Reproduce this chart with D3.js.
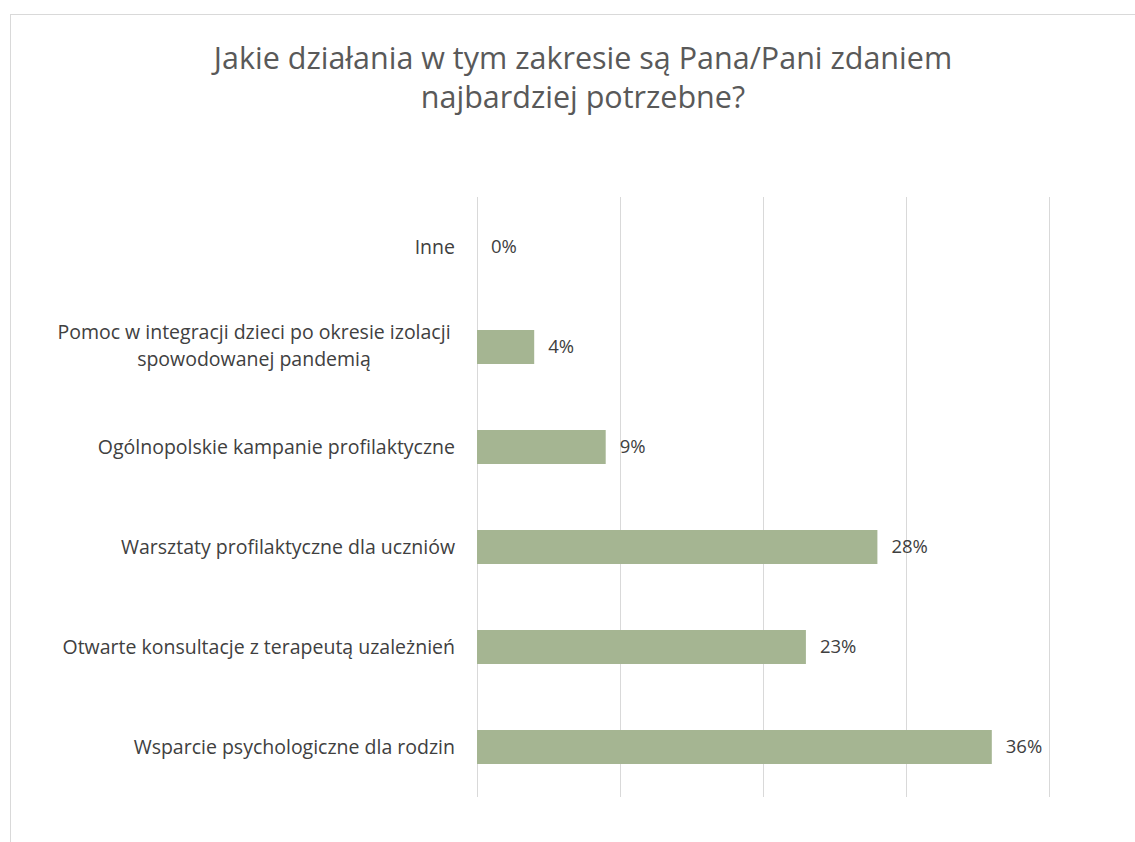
<!DOCTYPE html>
<html><head><meta charset="utf-8">
<script src="https://cdn.jsdelivr.net/npm/d3@7"></script>
<style>body{margin:0;background:#fff}svg{display:block}</style>
</head><body>
<svg id="c" width="1135" height="842"></svg>
<script>
const titleLines = ["Jakie działania w tym zakresie są Pana/Pani zdaniem", "najbardziej potrzebne?"];
const categories = [
  ["Inne"],
  ["Pomoc w integracji dzieci po okresie izolacji", "spowodowanej pandemią"],
  ["Ogólnopolskie kampanie profilaktyczne"],
  ["Warsztaty profilaktyczne dla uczniów"],
  ["Otwarte konsultacje z terapeutą uzależnień"],
  ["Wsparcie psychologiczne dla rodzin"]
];
const values = [0.00, 0.04, 0.09, 0.28, 0.23, 0.36];
const gridTicks = [0, 0.1, 0.2, 0.3, 0.4];

const font = "'Open Sans', sans-serif";
const svg = d3.select("#c");
svg.append("rect").attr("x", 10.5).attr("y", 14.5).attr("width", 1140).attr("height", 850)
  .attr("fill", "#fff").attr("stroke", "#d9d9d9").attr("stroke-width", 1);

const t = svg.append("text").attr("font-family", font).attr("font-size", 30.5).attr("fill", "#595959")
  .attr("text-anchor", "middle");
titleLines.forEach((l, i) => t.append("tspan").attr("x", 583).attr("y", 69 + i * 39).text(l));

const x = d3.scaleLinear().domain([0, 0.4]).range([477, 1049]);
const keys = categories.map((d, i) => i);
const y = d3.scaleBand().domain(keys).range([197, 797]).paddingInner(0.66).paddingOuter(0.33);

const grid = d3.axisBottom(x).tickValues(gridTicks).tickSize(-(797 - 197)).tickFormat("");
svg.append("g").attr("transform", "translate(0,797)").call(grid)
  .call(g => g.select(".domain").remove())
  .call(g => g.selectAll(".tick line").attr("stroke", "#d9d9d9").attr("stroke-width", 1));

svg.append("g").selectAll("rect").data(values).join("rect")
  .attr("x", x(0)).attr("y", (d, i) => y(i)).attr("width", d => x(d) - x(0)).attr("height", y.bandwidth())
  .attr("fill", "#a5b592");

const fmt = d3.format(".0%");
svg.append("g").selectAll("text").data(values).join("text")
  .attr("x", d => x(d) + 14).attr("y", (d, i) => y(i) + y.bandwidth() / 2).attr("dy", "0.35em")
  .attr("font-family", font).attr("font-size", 18.5).attr("fill", "#404040").text(d => fmt(d));

const lab = svg.append("g").attr("font-family", font).attr("font-size", 19.5).attr("fill", "#404040");
categories.forEach((lines, i) => {
  const cy = y(i) + y.bandwidth() / 2;
  const n = lines.length;
  if (n === 1) {
    lab.append("text").attr("x", 455).attr("y", cy).attr("dy", "0.35em").attr("text-anchor", "end").text(lines[0]);
  } else {
    lines.forEach((l, j) => lab.append("text").attr("text-anchor", "middle")
      .attr("x", 254).attr("y", cy + (j - (n - 1) / 2) * 27 - 1).attr("dy", "0.35em").text(l));
  }
});
</script>
</body></html>
